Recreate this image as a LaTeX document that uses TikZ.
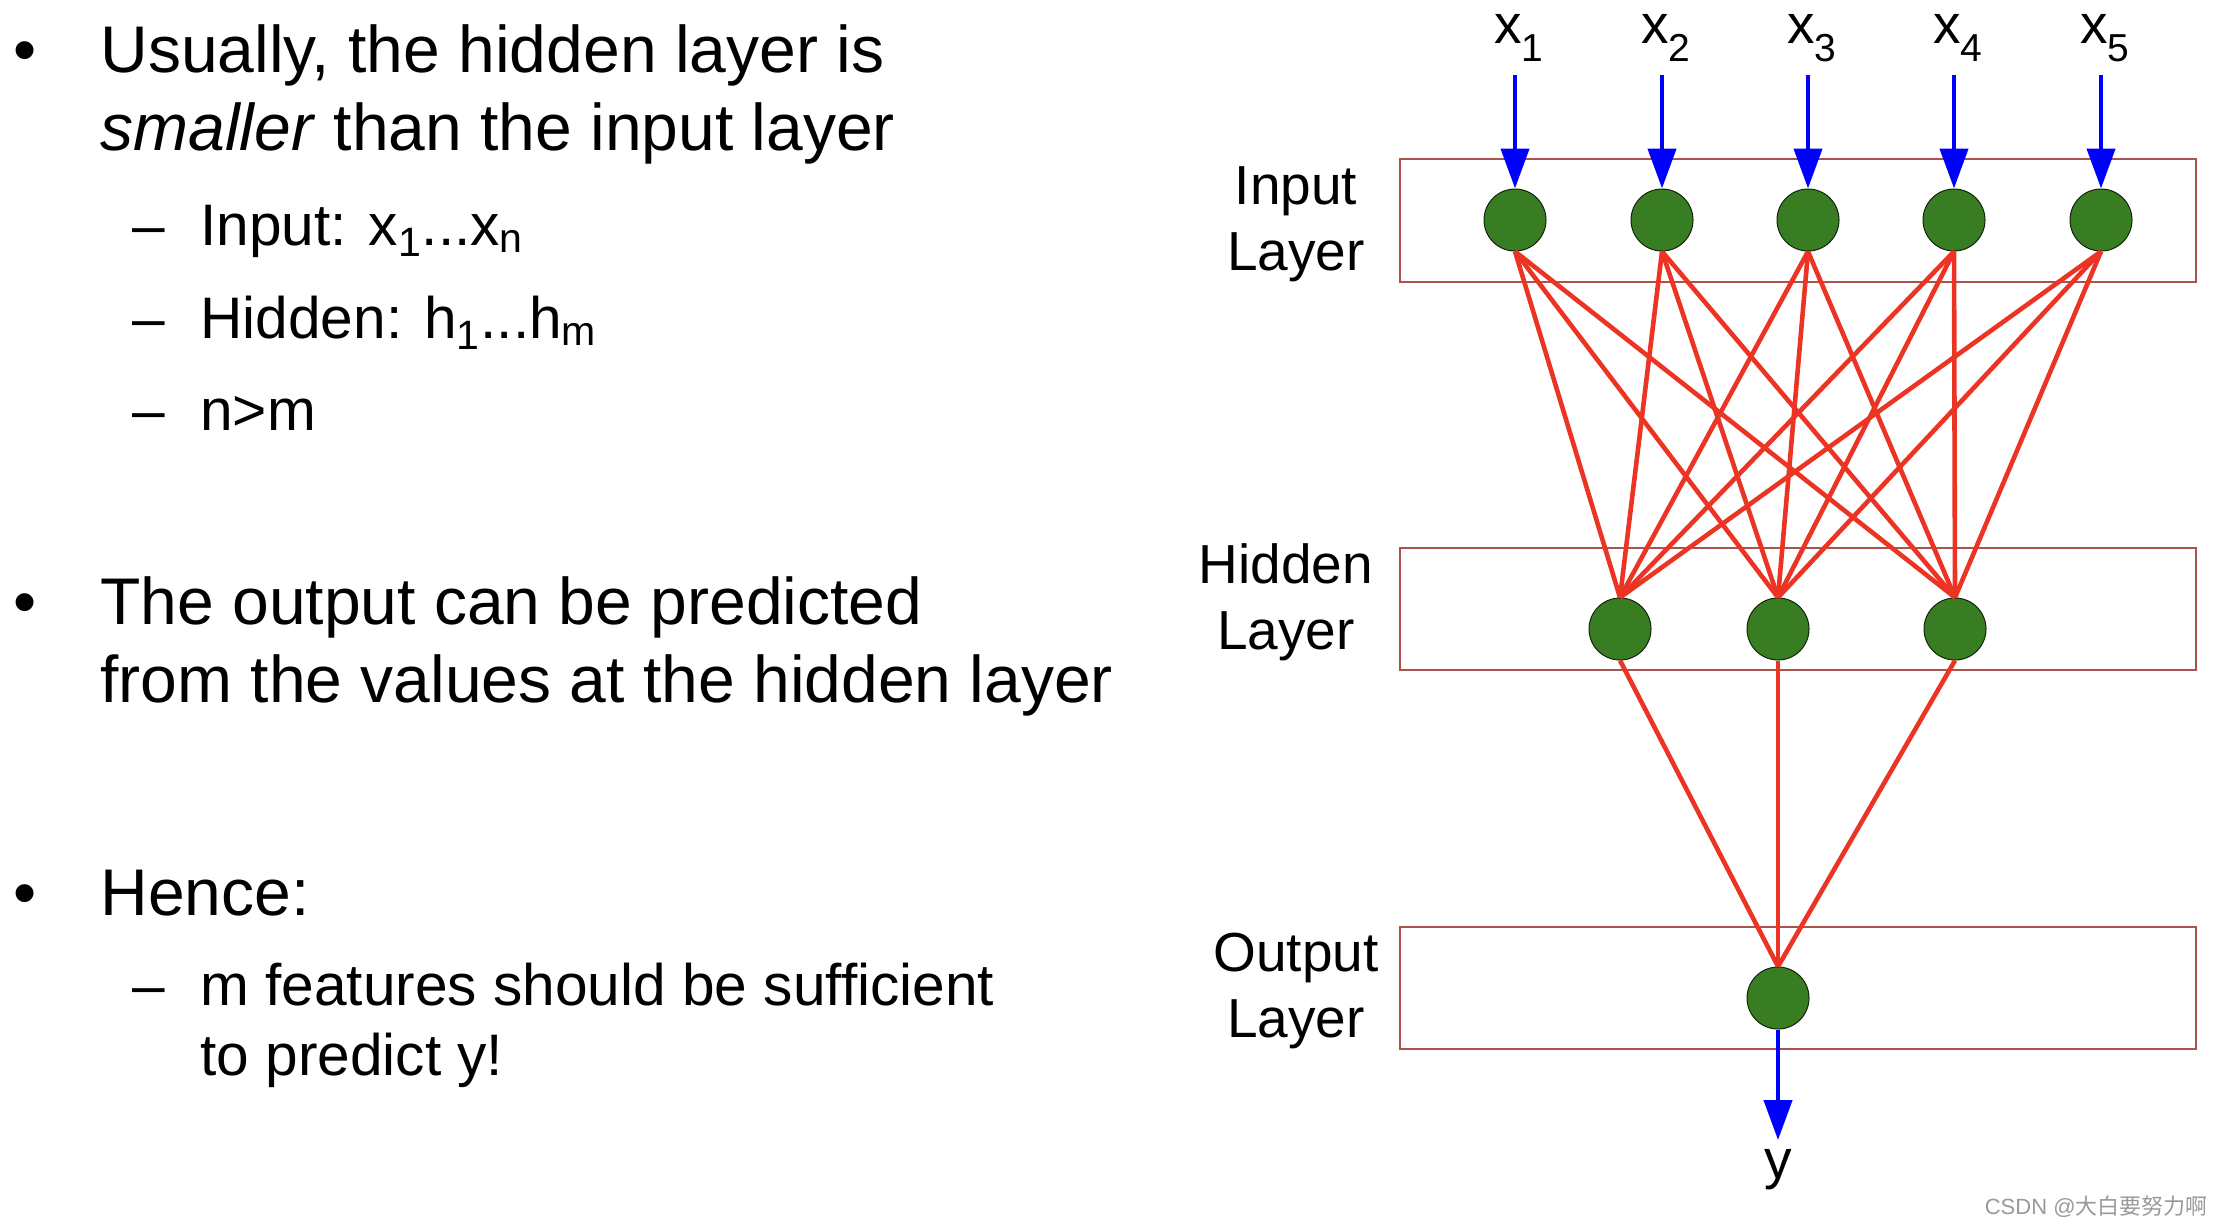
\documentclass[tikz,border=0pt]{standalone}
\usepackage{fontspec}
\setmainfont{Liberation Sans}
\newfontfamily\cjkfont{Noto Sans CJK SC}
\usetikzlibrary{arrows.meta}

\definecolor{nodegreen}{RGB}{56,125,34}
\definecolor{linkred}{RGB}{236,52,36}
\definecolor{boxred}{RGB}{170,82,76}

\tikzset{
  neuron/.style={circle, draw=black!70!nodegreen, line width=0.5pt, fill=nodegreen,
    minimum size=31pt, inner sep=0pt},
  layerbox/.style={draw=boxred, line width=0.8pt},
  link/.style={linkred, line width=2.3pt},
  feed/.style={blue, line width=2.2pt, -{Triangle[length=20pt,width=14pt]}},
  laylabel/.style={align=center, inner sep=0pt, font=\fontsize{27.5}{33}\selectfont},
  bigline/.style={anchor=base west, inner sep=0pt, font=\fontsize{33}{39}\selectfont},
  subline/.style={anchor=base west, inner sep=0pt, font=\fontsize{29.3}{35}\selectfont},
  glyph/.style={anchor=base, inner sep=0pt},
}

\begin{document}
\begin{tikzpicture}[x=0.5pt, y=-0.5pt]
    \useasboundingbox (0,0) rectangle (2220,1226);
    % Bullet text
    \node[glyph, font=\fontsize{33}{39}\selectfont] (dot1) at (25,72) {•};
    \node[bigline] (usual1) at (100,72) {Usually, the hidden layer is};
    \node[bigline] (usual2) at (100,150) {\emph{smaller} than the input layer};
    \node[subline] (dash1) at (132,245) {–};
    \node[subline] (inputs) at (200,245) {Input: x\textsubscript{1}...x\textsubscript{n}};
    \node[subline] (dash2) at (132,338) {–};
    \node[subline] (hiddens) at (200,338) {Hidden: h\textsubscript{1}...h\textsubscript{m}};
    \node[subline] (dash3) at (132,430) {–};
    \node[subline] (nm) at (200,430) {n>m};
    \node[glyph, font=\fontsize{33}{39}\selectfont] (dot2) at (25,624) {•};
    \node[bigline] (pred1) at (100,624) {The output can be predicted};
    \node[bigline] (pred2) at (100,702) {from the values at the hidden layer};
    \node[glyph, font=\fontsize{33}{39}\selectfont] (dot3) at (25,915) {•};
    \node[bigline] (hence) at (100,915) {Hence:};
    \node[subline] (dash4) at (132,1005) {–};
    \node[subline] (suff1) at (200,1005) {m features should be sufficient};
    \node[subline] (suff2) at (200,1075) {to predict y!};
    % Layer boxes
    \draw[layerbox] (1400,159) rectangle (2196,282);
    \draw[layerbox] (1400,548) rectangle (2196,670);
    \draw[layerbox] (1400,927) rectangle (2196,1049);
    \node[laylabel, anchor=base] (inlab) at (1296,270) {Input\\Layer};
    \node[laylabel, anchor=base] (hidlab) at (1286,649) {Hidden\\Layer};
    \node[laylabel, anchor=base] (outlab) at (1296,1037) {Output\\Layer};
    % Neurons
    \foreach \i/\x in {1/1515,2/1662,3/1808,4/1954,5/2101} {
      \node[neuron] (in\i) at (\x,220) {};
      \node[glyph, font=\fontsize{27.5}{30}\selectfont] (xlab\i) at (\x+4,43)
        {x\raisebox{-9pt}{\fontsize{19.5}{20}\selectfont\i}};
      \coordinate (xtop\i) at (\x,75);
      \draw[feed] (xtop\i) -- (in\i);
    }
    \foreach \j/\x in {1/1620,2/1778,3/1955}
      \node[neuron] (hid\j) at (\x,629) {};
    \node[neuron] (out) at (1778,998) {};
    % Weights
    \foreach \i in {1,...,5}
      \foreach \j in {1,2,3}
        \draw[link] (in\i.south) -- (hid\j.north);
    \foreach \j in {1,2,3}
      \draw[link] (hid\j.south) -- (out.north);
    % Output
    \coordinate (yend) at (1778,1140);
    \draw[feed] (out) -- (yend);
    \node[glyph, font=\fontsize{27.5}{30}\selectfont] (ylab) at (1778,1178) {y};
    \node[anchor=base east, inner sep=0pt, text=black!40, font=\fontsize{11}{12}\selectfont]
      (csdn) at (2208,1214) {CSDN @{\cjkfont 大白要努力啊}};
\end{tikzpicture}
\end{document}
